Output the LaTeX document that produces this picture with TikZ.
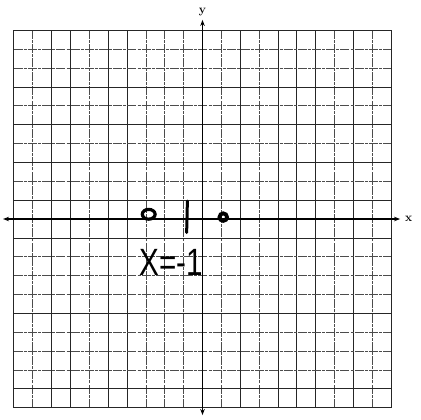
\documentclass[tikz,border=0pt]{standalone}
\usepackage{fontspec}
\newfontfamily\handfont{Liberation Sans}
\usetikzlibrary{arrows.meta}
\begin{document}
\begin{tikzpicture}[x=18.87pt,y=18.87pt,
  gsolid/.style={line width=0.75pt,black!85},
  gdash/.style={line width=0.75pt,black!70,dash pattern=on 9pt off 1.2pt on 3pt off 1pt},
  axisline/.style={line width=1.4pt,black,{Stealth[length=6pt,width=4.5pt]}-{Stealth[length=6pt,width=4.5pt]}},
  axlabel/.style={font=\bfseries\large,inner sep=0pt},
  marker/.style={line width=3pt,black,line cap=round}]
\useasboundingbox (-10.731,-10.599) rectangle (11.579,11.606);
% grid
\foreach \i in {-8,-7,-5,-4,2,4,5,6,8} \draw[gsolid] (\i,-10) -- (\i,10);
\foreach \i in {-9,-6,-3,-2,-1,1,3,7,9} \draw[gdash] (\i,-10) -- (\i,10);
\foreach \j in {7,5,3,1,-1,-5,-9} \draw[gsolid] (-10,\j) -- (10,\j);
\foreach \j in {9,8,6,4,2,-2,-3,-4,-6,-7,-8} \draw[gdash] (-10,\j) -- (10,\j);
\draw[gsolid] (-10,-10) rectangle (10,10);
% axes
\coordinate (xl) at (-10.57,0);
\coordinate (xr) at (10.47,0);
\coordinate (yb) at (0,-10.39);
\coordinate (yt) at (0,10.55);
\draw[axisline] (xl) -- (xr);
\draw[axisline] (yb) -- (yt);
\node[axlabel] (xlab) at (10.93,0) {x};
\node[axlabel] (ylab) at (0,10.97) {y};
% handwritten marks
\draw[marker,line width=3.2pt] (-2.85,0.25) ellipse [x radius=0.34, y radius=0.26];
\draw[marker,line width=3.8pt] (1.1,0.1) circle [radius=0.2];
\draw[marker,line width=3pt] (-0.8,0.95) -- (-0.84,-0.72);
\node[font=\handfont\fontsize{38}{38}\selectfont,xscale=0.78,inner sep=0pt] (eq) at (-1.67,-2.3) {X=-1};
\end{tikzpicture}
\end{document}
